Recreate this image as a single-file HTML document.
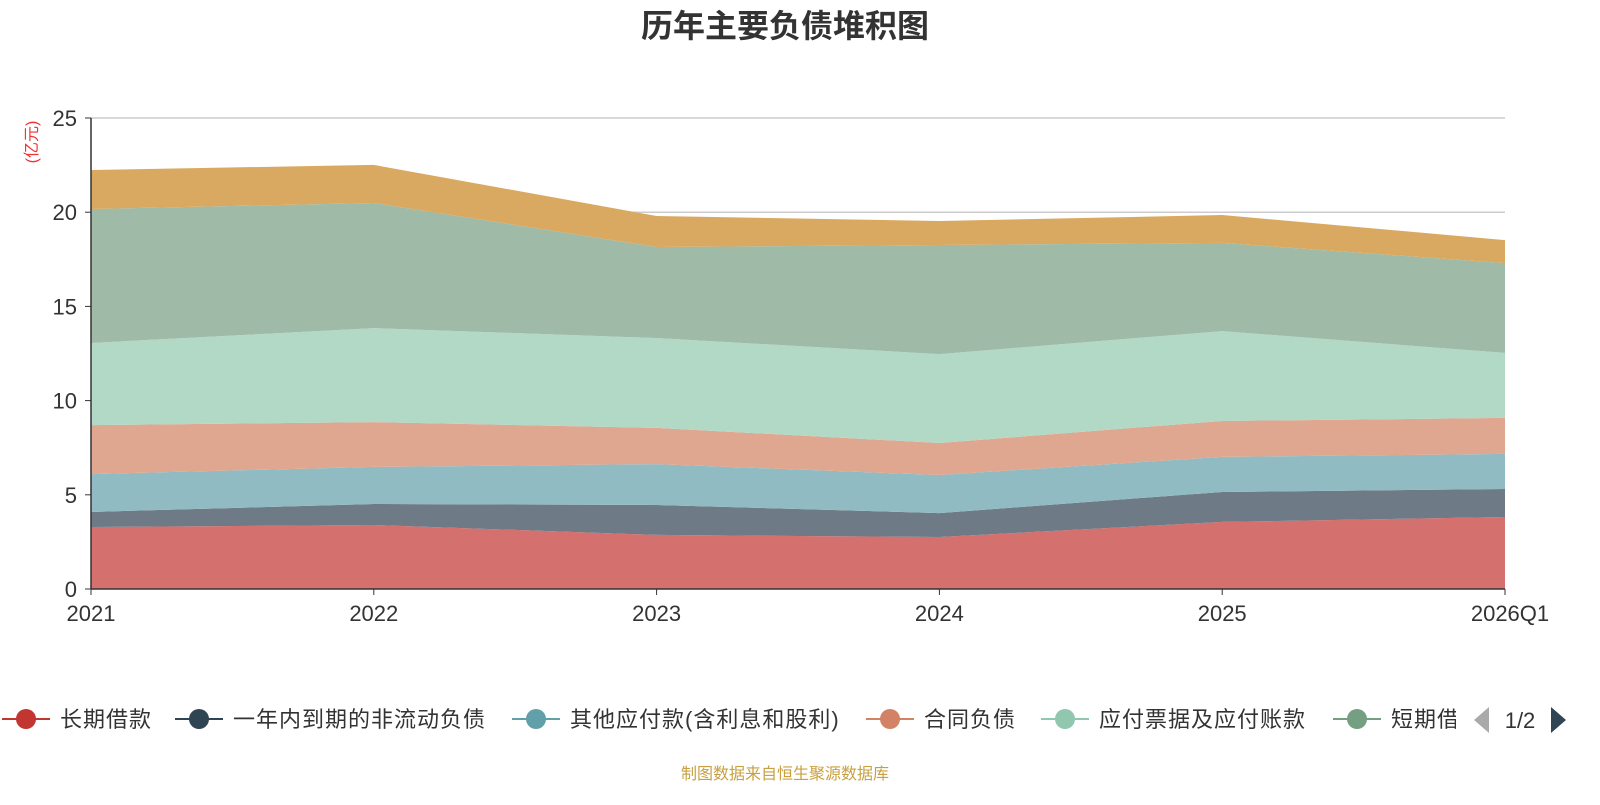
<!DOCTYPE html>
<html><head><meta charset="utf-8"><style>
body{margin:0;width:1600px;height:800px;background:#fff;overflow:hidden;font-family:"Liberation Sans","Noto Sans CJK SC",sans-serif;}
</style></head><body>
<svg id="c" width="1600" height="800" xmlns="http://www.w3.org/2000/svg">
<text x="785" y="37" text-anchor="middle" font-size="32" font-weight="bold" fill="#333" font-family="Liberation Sans, Noto Sans CJK SC, sans-serif">历年主要负债堆积图</text>
<text transform="translate(37,142) rotate(-90)" text-anchor="middle" font-size="16" fill="#e33" font-family="Liberation Sans, Noto Sans CJK SC, sans-serif">(亿元)</text>
<g id="grid"></g><g id="areas"></g><g id="axes"></g><g id="legend"></g>
<text x="785" y="779" text-anchor="middle" font-size="16" fill="#c8a040" font-family="Liberation Sans, Noto Sans CJK SC, sans-serif">制图数据来自恒生聚源数据库</text>
</svg>
<script>
const categories=["2021","2022","2023","2024","2025","2026Q1"];
const yTicks=[0,5,10,15,20,25];
const longLoan=[3.29,3.40,2.87,2.76,3.56,3.82];
const currentNonCurrent=[0.80,1.11,1.59,1.27,1.59,1.49];
const otherPayables=[2.01,1.97,2.17,2.02,1.86,1.86];
const contractLiab=[2.60,2.38,1.92,1.70,1.91,1.91];
const notesPayable=[4.36,4.99,4.77,4.72,4.77,3.45];
const shortLoan=[7.11,6.64,4.83,5.79,4.68,4.77];
const otherLiab=[2.07,2.02,1.65,1.27,1.48,1.22];
const seriesNames=["长期借款","一年内到期的非流动负债","其他应付款(含利息和股利)","合同负债","应付票据及应付账款","短期借款","其他"];
const series=[longLoan,currentNonCurrent,otherPayables,contractLiab,notesPayable,shortLoan,otherLiab];
const fills=["#d4706d","#6e7a86","#91bbc3","#dfa690","#b2d8c6","#9fbaa6","#d9a961"];
const legendColors=["#c23531","#2f4554","#61a0a8","#d48265","#91c7ae","#749f83"];
const X0=91,X1=1505,Y0=589,Y1=118,YMAX=25;
const xs=i=>X0+(X1-X0)*i/(categories.length-1);
const ys=v=>Y0-(Y0-Y1)*v/YMAX;
const NS="http://www.w3.org/2000/svg";
function mk(t,a,p){const e=document.createElementNS(NS,t);for(const k in a)e.setAttribute(k,a[k]);p.appendChild(e);return e;}
const F="Liberation Sans, Noto Sans CJK SC, sans-serif";
const grid=document.getElementById('grid');
yTicks.forEach(t=>{if(t>0){const l=mk('line',{x1:X0,x2:X1,y1:ys(t),y2:ys(t),stroke:'#ccc','stroke-width':1.5},grid);

}});
const areas=document.getElementById('areas');
let base=categories.map(()=>0);
series.forEach((s,k)=>{const top=base.map((b,i)=>b+s[i]);
let d='M'+categories.map((c,i)=>xs(i)+','+ys(top[i])).join('L');
for(let i=categories.length-1;i>=0;i--)d+='L'+xs(i)+','+ys(base[i]);
const p=mk('path',{d:d+'Z',fill:fills[k]},areas);


base=top;});
const ax=document.getElementById('axes');
mk('line',{x1:X0,x2:X0,y1:Y1,y2:Y0,stroke:'#333','stroke-width':1.5},ax);
mk('line',{x1:X0,x2:X1,y1:Y0,y2:Y0,stroke:'#333','stroke-width':1.5},ax);
yTicks.forEach(t=>{mk('line',{x1:X0-6,x2:X0,y1:ys(t),y2:ys(t),stroke:'#333'},ax);
const tx=mk('text',{x:X0-14,y:ys(t)+8,'text-anchor':'end','font-size':22,fill:'#333','font-family':F},ax);tx.textContent=t;

});
categories.forEach((c,i)=>{mk('line',{x1:xs(i),x2:xs(i),y1:Y0,y2:Y0+6,stroke:'#333'},ax);
const tx=mk('text',{x:xs(i),y:Y0+32,'text-anchor':'middle','font-size':22,fill:'#333','font-family':F},ax);tx.textContent=c;
if(i==categories.length-1){tx.setAttribute('x',xs(i)+5);}

});
const lg=document.getElementById('legend');
const lx=[2,175,512,866,1041,1333];
const clip=mk('clipPath',{id:'lc'},lg);mk('rect',{x:0,y:690,width:1456,height:60},clip);
const lgg=mk('g',{'clip-path':'url(#lc)'},lg);
for(let k=0;k<6;k++){const g=mk('g',{},lgg);


mk('line',{x1:lx[k],x2:lx[k]+48,y1:719,y2:719,stroke:legendColors[k],'stroke-width':2},g);
mk('circle',{cx:lx[k]+24,cy:719,r:10,fill:legendColors[k]},g);
const t=mk('text',{x:lx[k]+58,y:727,'font-size':22,'letter-spacing':1,fill:'#333','font-family':F},g);t.textContent=seriesNames[k];}
const pl=mk('path',{d:'M1489,707L1489,733L1474,720Z',fill:'#aaa'},lg);


const pt=mk('text',{x:1520,y:728,'text-anchor':'middle','font-size':22,fill:'#333','font-family':F},lg);pt.textContent='1/2';


const pn=mk('path',{d:'M1551,707L1551,733L1566,720Z',fill:'#2f4554'},lg);


</script>
</body></html>
